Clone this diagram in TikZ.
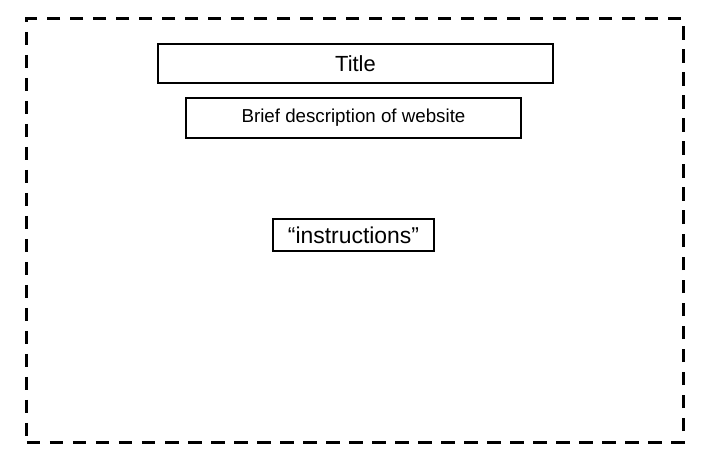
\documentclass[tikz,border=0pt]{standalone}
\usepackage{fontspec}
\setmainfont{Liberation Sans}
\tikzset{every picture/.append style={x=1bp, y=-1bp}}
\tikzset{
    every node/.style={rectangle, draw, inner sep=0pt, line width=1.8bp},
    pagebox/.style={line width=3bp, dash pattern=on 13.5bp off 9.5bp}
}

\begin{document}
\begin{tikzpicture}
  \useasboundingbox (0,0) rectangle (713,471);
  \node (page) [pagebox, minimum width=656bp, minimum height=423bp] at (355, 230.5) {};
  \node (title) [minimum width=395bp, minimum height=39bp, font=\fontsize{22}{26}\selectfont] at (355.5, 63.5) {Title};
  \node (desc) [minimum width=335bp, minimum height=40bp, font=\fontsize{18.8}{22}\selectfont] at (353.5, 118) {Brief description of website};
  \node (instr) [minimum width=161bp, minimum height=32bp, font=\fontsize{23}{27}\selectfont] at (353.5, 235) {“instructions”};
\end{tikzpicture}
\end{document}
